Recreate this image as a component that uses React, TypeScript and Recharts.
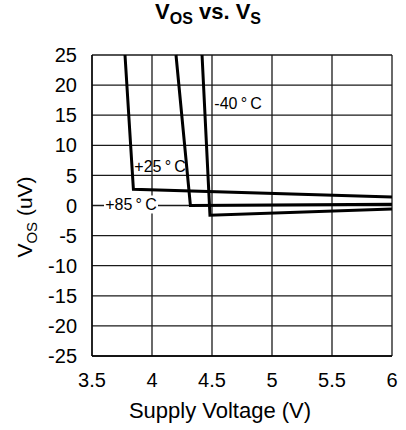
import { LineChart, Line, XAxis, YAxis, CartesianGrid, ReferenceDot } from "recharts";

const xTicks = [3.5, 4, 4.5, 5, 5.5, 6];
const yTicks = [-25, -20, -15, -10, -5, 0, 5, 10, 15, 20, 25];

// V_OS (uV) vs supply voltage, one list per temperature
const plus25 = [
  { x: 3.775, y: 25 },
  { x: 3.845, y: 2.7 },
  { x: 6, y: 1.4 },
];
const plus85 = [
  { x: 4.2, y: 25 },
  { x: 4.32, y: 0 },
  { x: 6, y: 0.2 },
];
const minus40 = [
  { x: 4.417, y: 25 },
  { x: 4.483, y: -1.6 },
  { x: 6, y: -0.6 },
];

const curveLabels = [
  { x: 4.717, y: 16.9, text: "-40\u2009°\u2009C", box: false },
  { x: 4.067, y: 6.56, text: "+25\u2009°\u2009C", box: false },
  { x: 3.825, y: 0.17, text: "+85\u2009°\u2009C", box: true },
];

const sans = "'Liberation Sans', Arial, Helvetica, sans-serif";
const narrow = "'Liberation Sans Narrow', 'Arial Narrow', " + sans;

function CurveLabel(props: any) {
  const { cx, cy, text, box } = props;
  return (
    <g>
      {box && <rect x={cx - 27} y={cy - 9} width={54} height={18} fill="#fff" />}
      <text
        x={cx}
        y={cy}
        textAnchor="middle"
        dominantBaseline="central"
        fontFamily={sans}
        fontSize={16}
        fill="#000"
      >
        {text}
      </text>
    </g>
  );
}

function YLabel() {
  return (
    <text
      transform="translate(32,217) rotate(-90)"
      textAnchor="middle"
      fontFamily={sans}
      fontSize={21}
      fill="#000"
    >
      V
      <tspan fontSize={15} dy={5}>
        OS
      </tspan>
      <tspan dy={-5}> (uV)</tspan>
    </text>
  );
}

function XLabel() {
  return (
    <text x={220} y={418} textAnchor="middle" fontFamily={sans} fontSize={22} fill="#000">
      Supply Voltage (V)
    </text>
  );
}

export default function App() {
  return (
    <div style={{ position: "absolute", left: 0, top: 0, width: 406, height: 430, background: "#fff" }}>
      <LineChart
        width={406}
        height={430}
        margin={{ top: 55, right: 14, left: 30, bottom: 44 }}
        style={{ position: "absolute", left: 0, top: 0 }}
      >
        <CartesianGrid stroke="#1a1a1a" strokeWidth={1.3} />
        <XAxis
          type="number"
          dataKey="x"
          domain={[3.5, 6]}
          ticks={xTicks}
          height={30}
          tickLine={false}
          tickSize={0}
          tickMargin={17}
          axisLine={{ stroke: "#000", strokeWidth: 1.3 }}
          tick={{ fill: "#000", fontFamily: narrow, fontSize: 20 }}
          label={{ content: () => <XLabel /> }}
        />
        <YAxis
          type="number"
          domain={[-25, 25]}
          ticks={yTicks}
          width={62}
          tickLine={false}
          tickSize={0}
          tickMargin={15}
          interval={0}
          axisLine={{ stroke: "#000", strokeWidth: 1.3 }}
          tick={{ fill: "#000", fontFamily: narrow, fontSize: 20 }}
          label={{ content: () => <YLabel /> }}
        />
        <Line data={plus25} dataKey="y" type="linear" stroke="#000" strokeWidth={3} dot={false} isAnimationActive={false} />
        <Line data={plus85} dataKey="y" type="linear" stroke="#000" strokeWidth={3} dot={false} isAnimationActive={false} />
        <Line data={minus40} dataKey="y" type="linear" stroke="#000" strokeWidth={3} dot={false} isAnimationActive={false} />
        {curveLabels.map((l) => (
          <ReferenceDot
            key={l.text}
            x={l.x}
            y={l.y}
            r={0}
            shape={(p: any) => <CurveLabel {...p} text={l.text} box={l.box} />}
          />
        ))}
      </LineChart>
      <svg width={406} height={32} style={{ position: "absolute", left: 0, top: 0 }}>
        <text x={208} y={18.5} textAnchor="middle" fontFamily={sans} fontWeight="bold" fontSize={22} fill="#000">
          V
          <tspan fontSize={16} dy={5}>OS</tspan>
          <tspan dy={-5}> vs. V</tspan>
          <tspan fontSize={16} dy={5}>S</tspan>
        </text>
      </svg>
    </div>
  );
}
